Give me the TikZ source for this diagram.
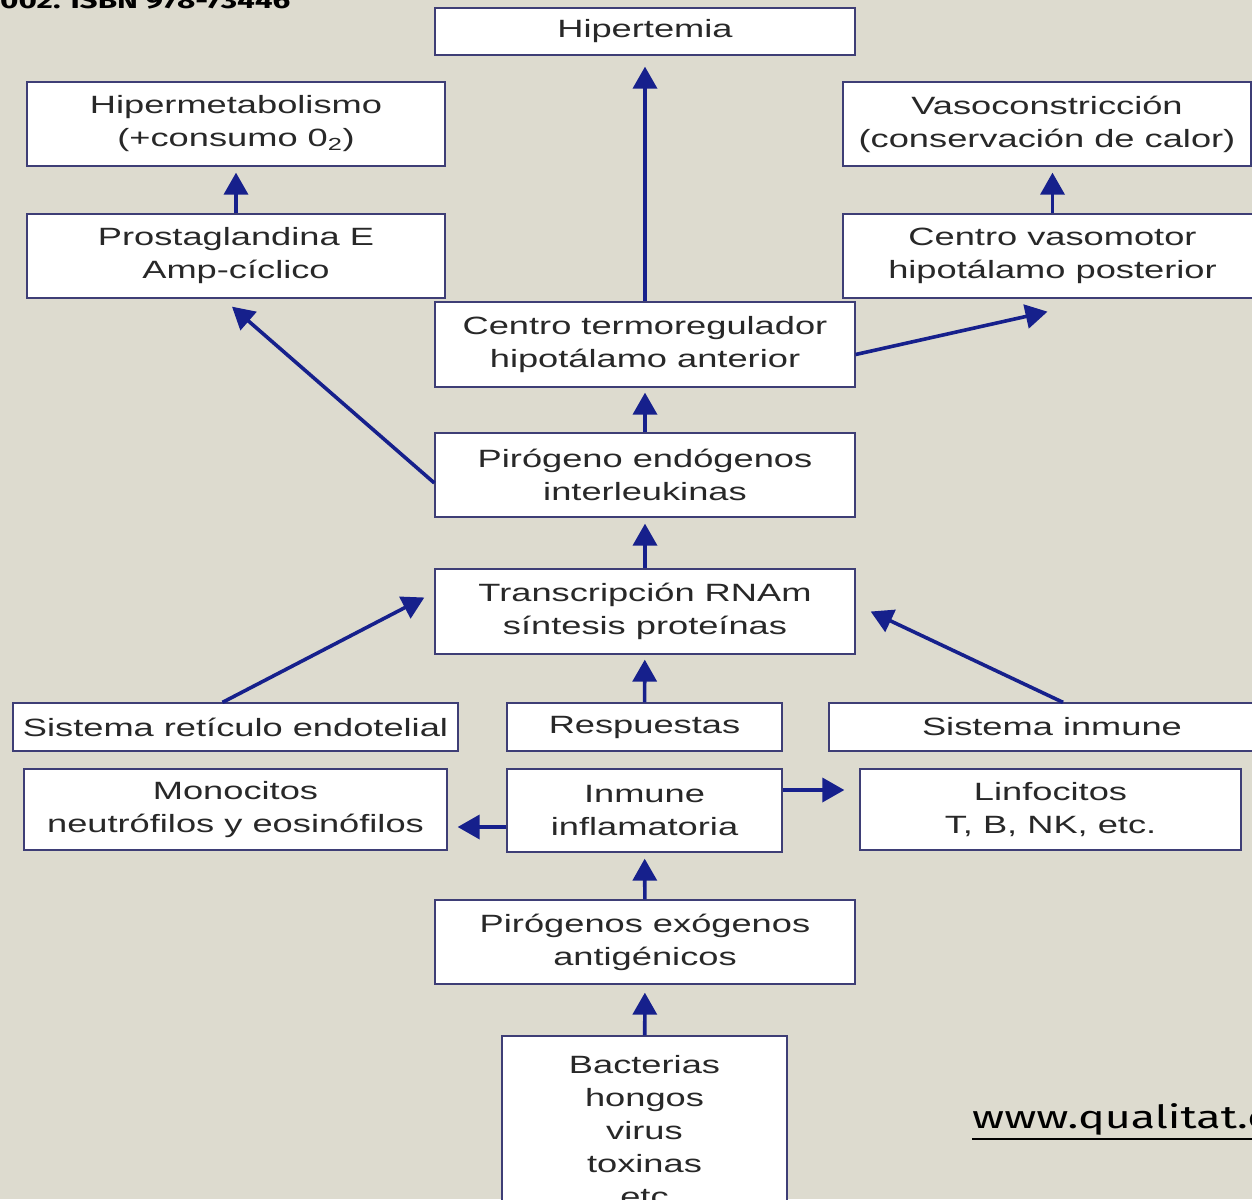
\documentclass[tikz,border=0pt]{standalone}
\usepackage{fontspec}
\setmainfont{Liberation Sans}[FakeStretch=1.45]
\newfontfamily\webfont{Fira Sans}[FakeStretch=1.4]
\usetikzlibrary{arrows.meta}
\definecolor{paper}{RGB}{221,219,207}
\definecolor{boxline}{RGB}{62,62,118}
\definecolor{inktext}{RGB}{40,40,40}
\definecolor{navy}{RGB}{22,32,140}
\tikzset{
  block/.style = {draw=boxline, fill=white, line width=1.3pt, align=center,
                  inner sep=0pt, text=inktext, font={\fontsize{25}{33}\selectfont}},
  arr/.style   = {-{Triangle[length=22pt,width=24pt]}, line width=3.6pt, navy}
}

\begin{document}
\begin{tikzpicture}[x=1pt,y=-1pt]
\clip (0,0) rectangle (1252,1199);
\fill[paper] (0,0) rectangle (1252,1199);
\node[anchor=base west, inner sep=0pt, font={\webfont\bfseries\fontsize{22.5}{27}\selectfont}] (isbn) at (0,9) {002. ISBN 978-73446};
\node[block, minimum width=420pt, minimum height=47pt] (hip) at (645,31.5) {Hipertemia};
\node[block, minimum width=418pt, minimum height=84pt] (hmet) at (236,124) {Hipermetabolismo\\(+consumo 0\textsubscript{2})};
\node[block, minimum width=408pt, minimum height=84pt] (vaso) at (1047,124) {Vasoconstricción\\(conservación de calor)};
\node[block, minimum width=418pt, minimum height=84pt] (prost) at (236,256) {Prostaglandina E\\Amp-cíclico};
\node[block, minimum width=419pt, minimum height=84pt] (cvm) at (1052.5,256) {Centro vasomotor\\hipotálamo posterior};
\node[block, minimum width=420pt, minimum height=85pt] (ctr) at (645,344.5) {Centro termoregulador\\hipotálamo anterior};
\node[block, minimum width=420pt, minimum height=84pt] (pend) at (645,475) {Pirógeno endógenos\\interleukinas};
\node[block, minimum width=420pt, minimum height=85pt] (trans) at (645,611.5) {Transcripción RNAm\\síntesis proteínas};
\node[block, minimum width=445pt, minimum height=48pt] (sre) at (235.5,727) {Sistema retículo endotelial};
\node[block, minimum width=275pt, minimum height=48pt] (resp) at (644.5,727) {Respuestas};
\node[block, minimum width=446pt, minimum height=48pt] (sin) at (1052,727) {Sistema inmune};
\node[block, minimum width=423pt, minimum height=81pt] (mono) at (235.5,809.5) {Monocitos\\neutrófilos y eosinófilos};
\node[block, minimum width=275pt, minimum height=83pt] (inm) at (644.5,810.5) {Inmune\\inflamatoria};
\node[block, minimum width=381pt, minimum height=81pt] (linf) at (1050.5,809.5) {Linfocitos\\T, B, NK, etc.};
\node[block, minimum width=420pt, minimum height=84pt] (pexo) at (645,942) {Pirógenos exógenos\\antigénicos};
\node[block, minimum width=285pt, minimum height=190pt] (bact) at (644.5,1131) {Bacterias\\hongos\\virus\\toxinas\\etc};
\node[anchor=base west, inner sep=0pt, font={\webfont\fontsize{32}{38}\selectfont}] (web) at (972,1128) {www.qualitat.c};
\draw[line width=1.8pt] ([yshift=-11pt]web.base west) -- ([yshift=-11pt,xshift=20pt]web.base east);
\draw[arr, shorten >=11pt] (ctr) -- (hip);
\draw[arr, shorten >=6pt] (prost) -- (hmet);
\draw[arr, shorten >=6pt] (cvm.north) -- (cvm.north |- vaso.south);
\draw[arr] ([yshift=-8pt]pend.west) -- ([xshift=-4pt,yshift=-8pt]prost.south);
\draw[arr] ([yshift=-10pt]ctr.east) -- ([xshift=-5pt,yshift=-13pt]cvm.south);
\draw[arr, shorten >=5pt] (pend) -- (ctr);
\draw[arr, shorten >=6pt] (trans) -- (pend);
\draw[arr, shorten >=5pt] (resp) -- (trans);
\draw[arr] ([xshift=-13pt]sre.north) -- ([xshift=-10pt,yshift=14pt]trans.west);
\draw[arr] ([xshift=11pt]sin.north) -- ([xshift=15pt]trans.east);
\draw[arr] ([yshift=-16.5pt]inm.west) -- ([xshift=10pt,yshift=-17.5pt]mono.east);
\draw[arr] ([yshift=20.5pt]inm.east) -- ([xshift=-15pt,yshift=19.5pt]linf.west);
\draw[arr, shorten >=6pt] (pexo) -- (inm);
\draw[arr, shorten >=8pt] (bact) -- (pexo);
\end{tikzpicture}
\end{document}
